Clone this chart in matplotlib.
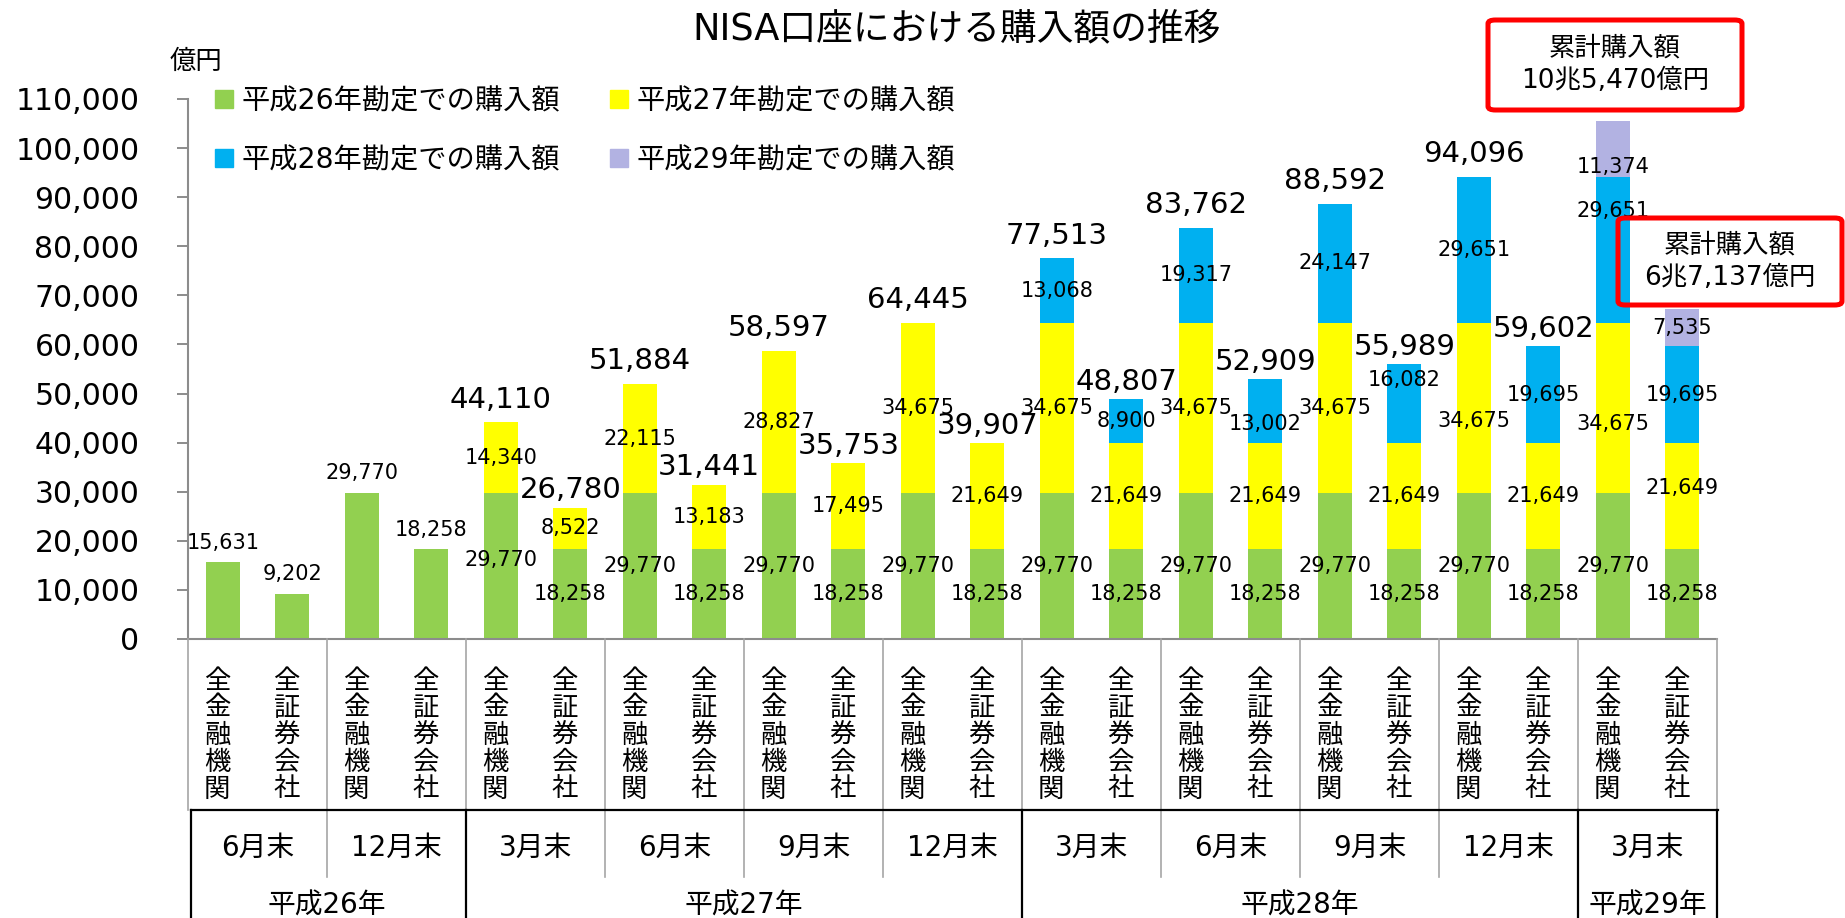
import matplotlib
matplotlib.use("Agg")
import matplotlib.pyplot as plt
from matplotlib.patches import Patch, FancyBboxPatch
from matplotlib.lines import Line2D
from matplotlib.transforms import blended_transform_factory

plt.rcParams['font.family'] = ['DejaVu Sans', 'Noto Sans CJK JP']

# ---------------- data ----------------
institutions = ['全金融機関', '全証券会社'] * 11
months = ['6月末', '12月末', '3月末', '6月末', '9月末', '12月末',
          '3月末', '6月末', '9月末', '12月末', '3月末']
years = ['平成26年', '平成27年', '平成28年', '平成29年']
year_groups = [2, 4, 4, 1]          # number of month groups in each year

h26 = [15631, 9202, 29770, 18258, 29770, 18258, 29770, 18258, 29770, 18258, 29770,
       18258, 29770, 18258, 29770, 18258, 29770, 18258, 29770, 18258, 29770, 18258]
h27 = [0, 0, 0, 0, 14340, 8522, 22115, 13183, 28827, 17495, 34675,
       21649, 34675, 21649, 34675, 21649, 34675, 21649, 34675, 21649, 34675, 21649]
h28 = [0] * 12 + [13068, 8900, 19317, 13002, 24147, 16082, 29651, 19695, 29651, 19695]
h29 = [0] * 20 + [11374, 7535]
totals = [None, None, None, None, 44110, 26780, 51884, 31441, 58597, 35753, 64445,
          39907, 77513, 48807, 83762, 52909, 88592, 55989, 94096, 59602, None, None]

series_names = ['平成26年勘定での購入額', '平成27年勘定での購入額',
                '平成28年勘定での購入額', '平成29年勘定での購入額']
colors = ['#92D050', '#FFFF00', '#00B0F0', '#B2B2E2']
yticks = list(range(0, 110001, 10000))

box_texts = ['累計購入額\n10兆5,470億円', '累計購入額\n6兆7,137億円']

# label nudges (data units) for a few segment labels: (bar index, series index)
nudge = {(4, 0): 1300, (15, 2): -2600, (17, 2): 4900, (18, 1): -2800,
         (20, 1): -3300, (20, 2): 7900, (20, 3): -3700, (21, 1): 1700}

# ---------------- figure ----------------
W, H = 1845, 918
fig = plt.figure(figsize=(W / 100, H / 100), dpi=100)
def fx(px):
    return px / W
def fy(px):
    return 1 - px / H

ax = fig.add_axes([fx(188), fy(639), fx(1717) - fx(188), fy(99) - fy(639)])

n = len(institutions)
x = list(range(n))
series = [h26, h27, h28, h29]
bottom = [0] * n
for si, vals in enumerate(series):
    ax.bar(x, vals, width=0.49, bottom=bottom, color=colors[si],
           edgecolor='none', zorder=2)
    for i in range(n):
        v = vals[i]
        if v <= 0:
            continue
        if i < 4:
            ax.annotate(f'{v:,}', (i, bottom[i] + v), xytext=(0, 14),
                        textcoords='offset points', ha='center', va='center',
                        fontsize=15, zorder=5)
        else:
            yc = bottom[i] + v / 2 + nudge.get((i, si), 0)
            ax.text(i, yc, f'{v:,}', ha='center', va='center', fontsize=15, zorder=5)
    bottom = [b + v for b, v in zip(bottom, vals)]

for i, t in enumerate(totals):
    if t is None:
        continue
    off = 16.5 if i % 2 == 0 else 12.5
    ax.annotate(f'{t:,}', (i, bottom[i]), xytext=(0, off),
                textcoords='offset points', ha='center', va='center',
                fontsize=21, zorder=5)

ax.set_xlim(-0.5, n - 0.5)
ax.set_ylim(0, 110000)
ax.set_yticks(yticks)
ax.set_yticklabels([f'{v:,}' for v in yticks], fontsize=21.5)
ax.tick_params(axis='y', length=8, width=1.4, color='#8C8C8C', pad=27)
ax.set_xticks([])
for s in ['top', 'right']:
    ax.spines[s].set_visible(False)
for s in ['left', 'bottom']:
    ax.spines[s].set_color('#8C8C8C')
    ax.spines[s].set_linewidth(1.5)

# ---------------- category table ----------------
tr = blended_transform_factory(ax.transData, fig.transFigure)
gray = '#A6A6A6'

def vline(xd, y0, y1, color, lw):
    fig.add_artist(Line2D([xd, xd], [fy(y0), fy(y1)], transform=tr, color=color,
                          lw=lw, clip_on=False))

n_groups = len(months)
year_bounds = [0]
for g in year_groups:
    year_bounds.append(year_bounds[-1] + g)
for g in range(n_groups + 1):
    xd = -0.5 + 2 * g
    vline(xd, 639, 810, gray, 1.2)
    if g not in year_bounds:
        vline(xd, 810, 877, gray, 1.2)
for g in year_bounds:
    xd = -0.5 + 2 * g + (0.05 if g == 0 else 0)
    vline(xd, 810, 918, 'black', 1.6)
fig.add_artist(Line2D([-0.45, n - 0.48], [fy(810), fy(810)], transform=tr,
                      color='black', lw=1.6, clip_on=False))

for i, lab in enumerate(institutions):
    fig.text(i - 0.08, fy(735), '\n'.join(lab), transform=tr, ha='center', va='center',
             fontsize=19, linespacing=1.0, family=['Noto Sans CJK JP'])
for g, m in enumerate(months):
    fig.text(2 * g + 0.5, fy(848), m, transform=tr, ha='center', va='center',
             fontsize=20)
for yi, yl in enumerate(years):
    g0, g1 = year_bounds[yi], year_bounds[yi + 1]
    xc = (2 * g0 - 0.5 + 2 * g1 - 0.5) / 2
    fig.text(xc, fy(906), yl, transform=tr, ha='center', va='center', fontsize=20)

# ---------------- titles & labels ----------------
fig.text(fx(957), fy(29), 'NISA口座における購入額の推移', ha='center', va='center',
         fontsize=26.5)
fig.text(fx(196), fy(62), '億円', ha='center', va='center', fontsize=19)

handles = [Patch(color=c, label=l) for c, l in zip(colors, series_names)]
order = [0, 2, 1, 3]
fig.legend([handles[k] for k in order], [series_names[k] for k in order],
           loc='upper left', bbox_to_anchor=(fx(215), fy(87)), ncol=2,
           frameon=False, fontsize=20.3, borderpad=0, borderaxespad=0,
           handlelength=0.65, handleheight=0.62, handletextpad=0.3,
           columnspacing=1.75, labelspacing=1.1)

# ---------------- red annotation boxes ----------------
boxes = [(1488, 20, 1742, 110), (1618, 218, 1842, 305)]
for (x0, y0, x1, y1), txt in zip(boxes, box_texts):
    fig.add_artist(FancyBboxPatch((fx(x0), fy(y1)), fx(x1) - fx(x0), fy(y0) - fy(y1),
                                  boxstyle='round,pad=0,rounding_size=0.004',
                                  transform=fig.transFigure, fc='none', ec='#FF0000',
                                  lw=3.6, zorder=10))
    fig.text(fx((x0 + x1) / 2), fy((y0 + y1) / 2), txt, ha='center', va='center',
             fontsize=19, linespacing=1.3, zorder=11)

fig.savefig('out.png', dpi=100)
